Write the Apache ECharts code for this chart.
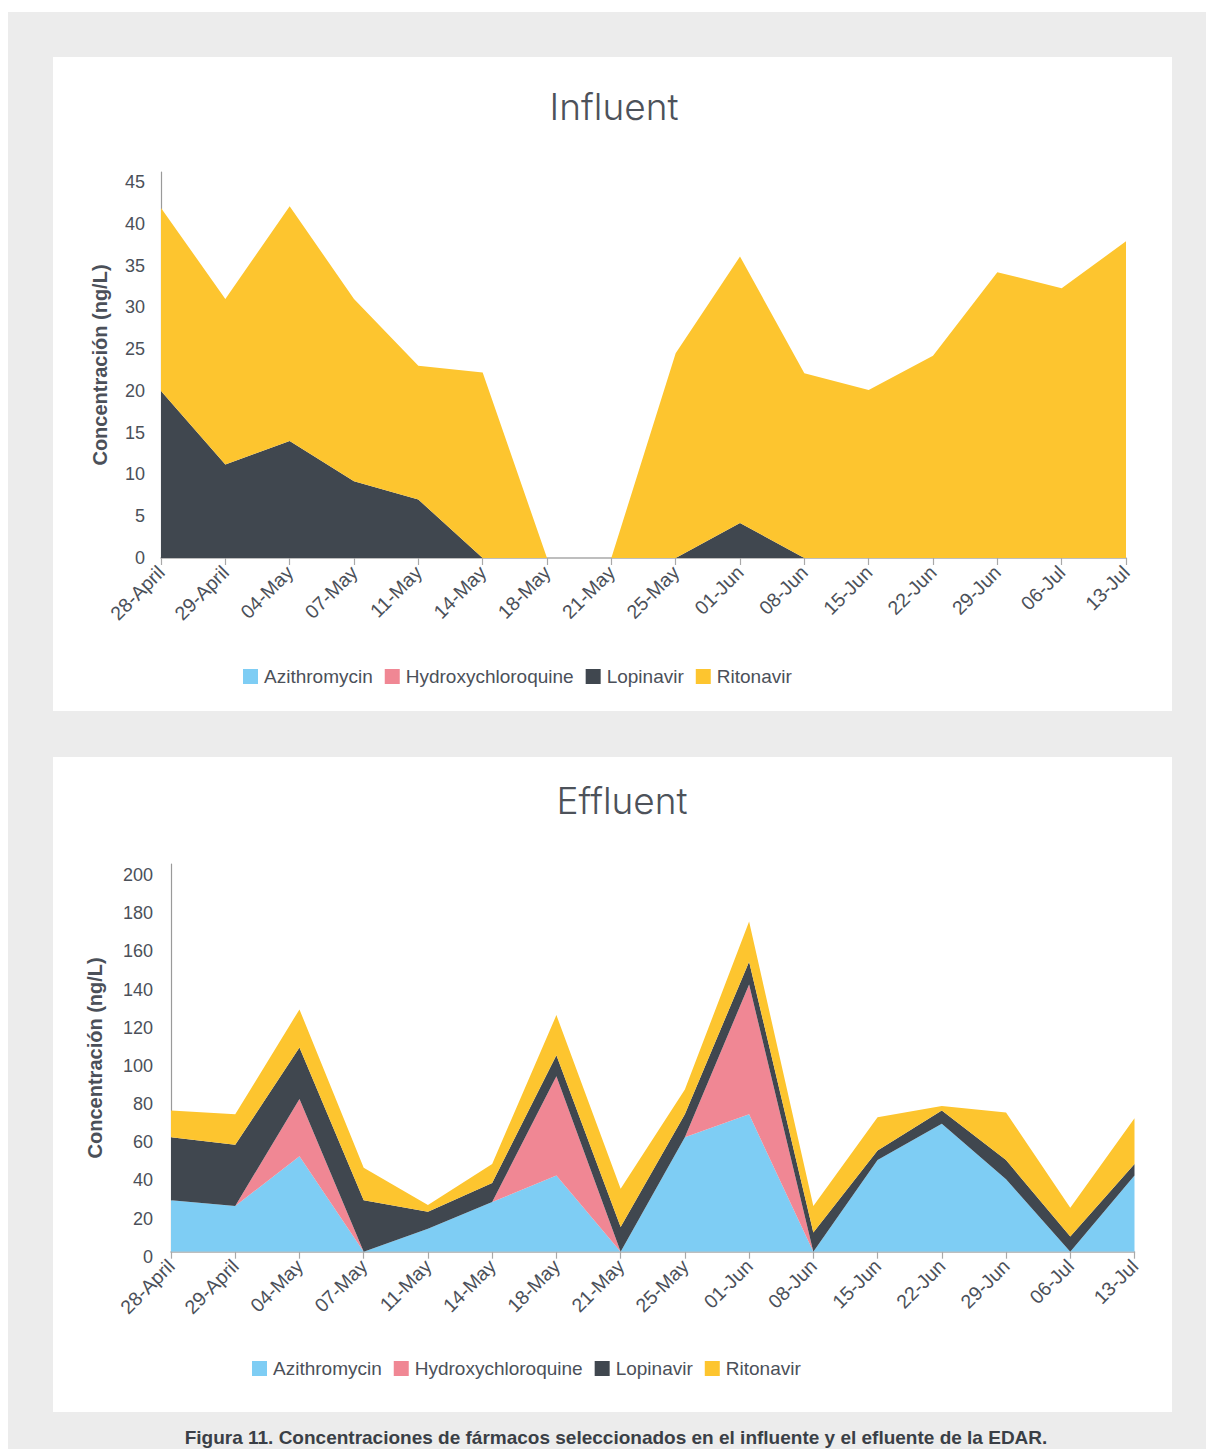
<!DOCTYPE html>
<html>
<head>
<meta charset="utf-8">
<script src="https://cdn.jsdelivr.net/npm/echarts@6/dist/echarts.min.js"></script>
<style>
  html, body { margin: 0; padding: 0; background: #ffffff; }
  #chart { width: 1206px; height: 1449px; }
</style>
</head>
<body>
<div id="chart"></div>
<script>
// Sampling dates (shared by both panels)
const dates = ['28-April', '29-April', '04-May', '07-May', '11-May', '14-May', '18-May', '21-May',
               '25-May', '01-Jun', '08-Jun', '15-Jun', '22-Jun', '29-Jun', '06-Jul', '13-Jul'];

// Influent concentrations (ng/L)
const influentAzithromycin = [0, 0, 0, 0, 0, 0, 0, 0, 0, 0, 0, 0, 0, 0, 0, 0];
const influentHydroxychloroquine = [0, 0, 0, 0, 0, 0, 0, 0, 0, 0, 0, 0, 0, 0, 0, 0];
const influentLopinavir = [20, 11.2, 14, 9.2, 7, 0, 0, 0, 0, 4.2, 0, 0, 0, 0, 0, 0];
const influentRitonavir = [21.9, 19.8, 28.1, 21.8, 16, 22.2, 0, 0, 24.5, 31.9, 22.1, 20.1, 24.2, 34.2, 32.3, 37.9];

// Effluent concentrations (ng/L)
const effluentAzithromycin = [27, 24, 50, 0, 12, 26, 40, 0, 60, 72, 0, 48, 67, 38, 0, 40];
const effluentHydroxychloroquine = [0, 0, 30, 0, 0, 0, 52, 0, 0, 68, 0, 0, 0, 0, 0, 0];
const effluentLopinavir = [33, 32, 27, 27, 9, 10, 11, 13, 12, 12, 10, 5, 7, 10, 8, 6];
const effluentRitonavir = [14, 16, 20, 17, 3.5, 10, 21, 20, 13, 21, 14, 17.5, 2.3, 25, 15, 24];

// Y-axis tick settings
const influentTickStep = 5, influentTopTick = 45;
const effluentTickStep = 20, effluentTopTick = 200;

const drugNames = ['Azithromycin', 'Hydroxychloroquine', 'Lopinavir', 'Ritonavir'];
const drugColors = ['#7ecdf4', '#f08794', '#40474f', '#fdc52f'];
const textColor = '#4b5059';
const axisFont = 'Liberation Sans, Arial, Helvetica, sans-serif';

function areaSeries(name, color, values, idx, stack) {
  return {
    name: name,
    type: 'line',
    stack: stack,
    xAxisIndex: idx,
    yAxisIndex: idx,
    data: values,
    symbol: 'none',
    showSymbol: false,
    lineStyle: { width: 0, color: color },
    itemStyle: { color: color },
    areaStyle: { color: color, opacity: 1 },
    emphasis: { disabled: true },
    animation: false
  };
}

function xAxisFor(idx) {
  return {
    type: 'category',
    gridIndex: idx,
    data: dates,
    boundaryGap: false,
    axisLine: { lineStyle: { color: '#a9a9a9', width: 1.5 } },
    axisTick: { show: true, length: 7, lineStyle: { color: '#a9a9a9', width: 1.2 } },
    axisLabel: { rotate: 45, margin: 11, color: textColor, fontSize: 19.5, fontFamily: axisFont, interval: 0 },
    splitLine: { show: false }
  };
}

function yAxisFor(idx, step, topTick, maxVal, gap, labelMargin, labelShift) {
  return {
    type: 'value',
    gridIndex: idx,
    min: 0,
    max: maxVal,
    interval: step,
    name: 'Concentración (ng/L)',
    nameLocation: 'middle',
    nameGap: gap,
    nameTextStyle: { color: textColor, fontSize: 20, fontWeight: 'bold', fontFamily: axisFont },
    axisLine: { show: true, lineStyle: { color: '#9a9a9a', width: 1.2 } },
    axisTick: { show: false },
    splitLine: { show: false },
    axisLabel: {
      color: textColor, fontSize: 18, fontFamily: axisFont, margin: labelMargin,
      showMaxLabel: false,
      formatter: function (v) { return (v % step === 0 && v <= topTick) ? '{t|' + v + '}' : ''; },
      rich: {
        t: { color: textColor, fontSize: 18, fontFamily: axisFont, padding: [labelShift * 2, 0, 0, 0] }
      }
    }
  };
}

function legendFor(left, top) {
  return {
    data: drugNames,
    left: left,
    top: top,
    orient: 'horizontal',
    icon: 'rect',
    itemWidth: 15,
    itemHeight: 15,
    itemGap: 12,
    selectedMode: false,
    textStyle: { color: textColor, fontSize: 19, fontFamily: axisFont, padding: [0, 0, 0, 1] }
  };
}

const chart = echarts.init(document.getElementById('chart'), null, { renderer: 'svg' });

const series = [];
drugNames.forEach(function (n, i) {
  series.push(areaSeries(n, drugColors[i],
    [influentAzithromycin, influentHydroxychloroquine, influentLopinavir, influentRitonavir][i], 0, 'influent'));
});
drugNames.forEach(function (n, i) {
  series.push(areaSeries(n, drugColors[i],
    [effluentAzithromycin, effluentHydroxychloroquine, effluentLopinavir, effluentRitonavir][i], 1, 'effluent'));
});

const titleStyle = {
  fill: '#4d525a', font: '300 37px Inter, Lato, sans-serif',
  textAlign: 'center', textVerticalAlign: 'middle'
};

chart.setOption({
  animation: false,
  backgroundColor: '#ffffff',
  graphic: [
    { type: 'rect', z: -10, shape: { x: 8, y: 12, width: 1198, height: 1437 }, style: { fill: '#ececec' } },
    { type: 'rect', z: -9, shape: { x: 53, y: 57, width: 1119, height: 654 }, style: { fill: '#ffffff' } },
    { type: 'rect', z: -9, shape: { x: 53, y: 757, width: 1119, height: 655 }, style: { fill: '#ffffff' } },
    { type: 'text', z: 5, x: 614, y: 106, style: Object.assign({ text: 'Influent' }, titleStyle) },
    { type: 'text', z: 5, x: 622, y: 800, style: Object.assign({ text: 'Effluent' }, titleStyle) },
    {
      type: 'text', z: 5, x: 616, y: 1437,
      style: {
        text: 'Figura 11. Concentraciones de fármacos seleccionados en el influente y el efluente de la EDAR.',
        fill: '#3a3f46', font: 'bold 19px Liberation Sans, Arial, sans-serif',
        textAlign: 'center', textVerticalAlign: 'middle'
      }
    }
  ],
  legend: [legendFor(238, 662), legendFor(247, 1354)],
  grid: [
    { left: 161, top: 172, width: 965, height: 386 },
    { left: 171, top: 864, width: 963.5, height: 387.7 }
  ],
  xAxis: [xAxisFor(0), xAxisFor(1)],
  yAxis: [
    yAxisFor(0, influentTickStep, influentTopTick, 46.2, 51, 16, 0),
    yAxisFor(1, effluentTickStep, effluentTopTick, 203.2, 66, 18, 5)
  ],
  series: series
});
</script>
</body>
</html>
